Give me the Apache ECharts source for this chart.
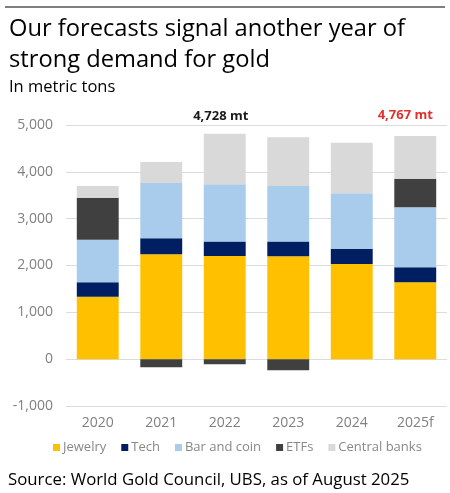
<!DOCTYPE html>
<html>
<head>
<meta charset="utf-8">
<script src="https://cdn.jsdelivr.net/npm/echarts@6/dist/echarts.min.js"></script>
<style>
  html, body { margin: 0; padding: 0; background: #fff; }
  #chart { width: 450px; height: 493px; }
</style>
</head>
<body>
<div id="chart"></div>
<script>
// metric tons
var years = ['2020', '2021', '2022', '2023', '2024', '2025f'];
var jewelry = [1335, 2240, 2205, 2200, 2030, 1645];
var tech = [305, 340, 310, 310, 325, 320];
var barCoin = [910, 1180, 1220, 1190, 1190, 1280];
var etfs = [895, -175, -110, -235, 0, 605];
var centralBanks = [250, 450, 1080, 1040, 1075, 915];
var totalLabels = { 2: '4,728 mt', 5: '4,767 mt' };

var font = 'Open Sans';

function cbData() {
  var out = [];
  for (var i = 0; i < centralBanks.length; i++) {
    var d = { value: centralBanks[i] };
    if (totalLabels[i]) {
      d.label = {
        show: true,
        position: 'top',
        distance: i == 5 ? 14 : 11,
        offset: [i == 5 ? -10 : -4, 0],
        formatter: totalLabels[i],
        fontFamily: font,
        fontSize: 13,
        fontWeight: 'bold',
        color: i == 5 ? '#E0312F' : '#1a1a1a'
      };
    }
    out.push(d);
  }
  return out;
}

function bar(name, data, color) {
  return {
    name: name,
    type: 'bar',
    stack: 'total',
    barWidth: '66%',
    itemStyle: { color: color },
    emphasis: { disabled: true },
    data: data
  };
}

var chart = echarts.init(document.getElementById('chart'));
chart.setOption({
  animation: false,
  textStyle: { fontFamily: font },
  title: [
    {
      text: 'Our forecasts signal another year of\nstrong demand for gold',
      left: 4, top: 9,
      textStyle: { fontFamily: font, fontSize: 23.7, fontWeight: 'normal', color: '#000', lineHeight: 31 }
    },
    {
      text: 'In metric tons',
      left: 4, top: 74,
      textStyle: { fontFamily: font, fontSize: 16.5, fontWeight: 'normal', color: '#000' }
    },
    {
      text: 'Source: World Gold Council, UBS, as of August 2025',
      left: 3, top: 467,
      textStyle: { fontFamily: font, fontSize: 16.8, fontWeight: 'normal', color: '#000' }
    }
  ],
  graphic: [
    { type: 'line', shape: { x1: 5, y1: 7, x2: 445, y2: 7 }, style: { stroke: '#000', lineWidth: 1.2 } }
  ],
  legend: {
    left: 48, top: 436, padding: 5,
    itemWidth: 7, itemHeight: 7, itemGap: 15,
    icon: 'rect',
    textStyle: { fontFamily: font, fontSize: 13, color: '#888', padding: [0, 0, 0, -2] },
    data: ['Jewelry', 'Tech', 'Bar and coin', 'ETFs', 'Central banks']
  },
  grid: { left: 66, right: 3, top: 125, height: 281 },
  xAxis: {
    type: 'category',
    data: years,
    axisLine: { show: false },
    axisTick: { show: false },
    axisLabel: { fontFamily: font, fontSize: 14, color: '#808080', margin: 10 }
  },
  yAxis: {
    type: 'value',
    min: -1000, max: 5000, interval: 1000,
    axisLabel: {
      fontFamily: font, fontSize: 14, color: '#808080', margin: 13,
      formatter: function (v) { return v.toLocaleString('en-US'); }
    },
    splitLine: { lineStyle: { color: '#dcdcdc', width: 1 } }
  },
  series: [
    bar('Jewelry', jewelry, '#FFC000'),
    bar('Tech', tech, '#001E62'),
    bar('Bar and coin', barCoin, '#A9CBEC'),
    bar('ETFs', etfs, '#404040'),
    bar('Central banks', cbData(), '#D9D9D9')
  ]
});
</script>
</body>
</html>
